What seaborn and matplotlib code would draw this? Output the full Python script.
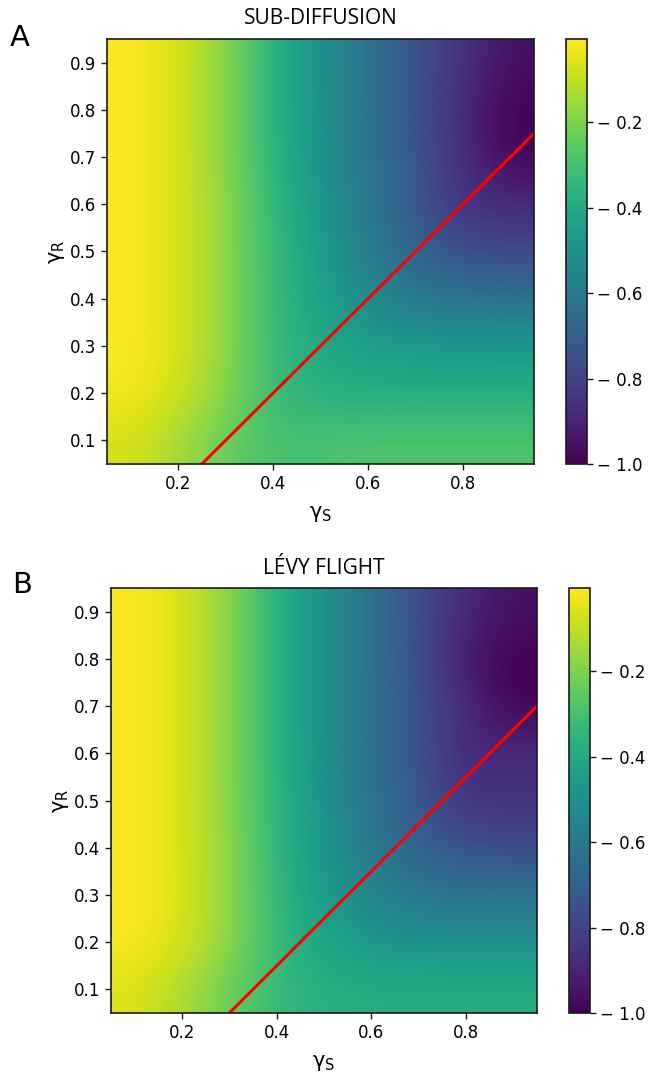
import numpy as np
import matplotlib
matplotlib.use("Agg")
import matplotlib.pyplot as plt
from matplotlib.ticker import FuncFormatter
import seaborn as sns

# ---- data -----------------------------------------------------------------
gamma_s = [0.1, 0.2, 0.3, 0.4, 0.5, 0.6, 0.7, 0.8, 0.9]
gamma_r = [0.1, 0.2, 0.3, 0.4, 0.5, 0.6, 0.7, 0.8, 0.9]

# rows: gamma_R = 0.1 ... 0.9 ; columns: gamma_S = 0.1 ... 0.9
sub_diffusion = [
    [-0.07, -0.14, -0.24, -0.30, -0.29, -0.28, -0.28, -0.28, -0.28],
    [-0.02, -0.07, -0.18, -0.33, -0.37, -0.38, -0.38, -0.38, -0.38],
    [-0.01, -0.06, -0.17, -0.33, -0.40, -0.44, -0.46, -0.46, -0.46],
    [-0.01, -0.06, -0.17, -0.33, -0.43, -0.53, -0.60, -0.62, -0.63],
    [-0.01, -0.06, -0.17, -0.33, -0.44, -0.58, -0.69, -0.76, -0.78],
    [-0.01, -0.06, -0.17, -0.34, -0.47, -0.60, -0.72, -0.87, -0.88],
    [-0.01, -0.06, -0.18, -0.35, -0.49, -0.61, -0.73, -0.87, -0.99],
    [-0.01, -0.06, -0.18, -0.36, -0.50, -0.62, -0.74, -0.89, -1.00],
    [-0.01, -0.06, -0.18, -0.36, -0.50, -0.62, -0.74, -0.86, -0.96],
]

levy_flight = [
    [-0.06, -0.13, -0.23, -0.34, -0.37, -0.38, -0.38, -0.38, -0.38],
    [-0.01, -0.06, -0.17, -0.33, -0.42, -0.47, -0.50, -0.50, -0.50],
    [-0.01, -0.06, -0.17, -0.34, -0.46, -0.55, -0.60, -0.62, -0.62],
    [-0.01, -0.06, -0.17, -0.35, -0.48, -0.60, -0.70, -0.75, -0.77],
    [-0.01, -0.06, -0.18, -0.35, -0.49, -0.62, -0.73, -0.86, -0.86],
    [-0.01, -0.06, -0.18, -0.36, -0.50, -0.63, -0.74, -0.90, -0.87],
    [-0.01, -0.06, -0.18, -0.36, -0.50, -0.63, -0.75, -0.88, -1.00],
    [-0.01, -0.06, -0.18, -0.36, -0.50, -0.63, -0.76, -0.94, -1.00],
    [-0.01, -0.06, -0.18, -0.36, -0.50, -0.63, -0.76, -0.89, -0.96],
]

# red boundary lines: gamma_R = gamma_S - offset
line_x_sub = [0.25, 0.95]
line_offset_sub = 0.20
line_x_levy = [0.30, 0.95]
line_offset_levy = 0.25

titles = ["SUB-DIFFUSION", "LÉVY FLIGHT"]
letters = ["A", "B"]
x_ticks = [0.2, 0.4, 0.6, 0.8]
y_ticks = [0.1, 0.2, 0.3, 0.4, 0.5, 0.6, 0.7, 0.8, 0.9]
cbar_ticks = [-1.0, -0.8, -0.6, -0.4, -0.2]
vmin, vmax = -1.0, -0.005

# ---- style ----------------------------------------------------------------
sns.set_style("ticks")
plt.rcParams["font.family"] = ["DejaVu Sans"]
plt.rcParams["axes.linewidth"] = 1.2
plt.rcParams["axes.edgecolor"] = "#1a1a1a"
plt.rcParams["text.color"] = "black"
plt.rcParams["axes.labelcolor"] = "black"
plt.rcParams["xtick.color"] = "black"
plt.rcParams["ytick.color"] = "black"

cmap = sns.color_palette("viridis", as_cmap=True)

W, H = 649, 1075
fig = plt.figure(figsize=(W / 100, H / 100), dpi=100)

def frac_rect(left, top, right, bottom):
    return [left / W, 1 - bottom / H, (right - left) / W, (bottom - top) / H]

panels = [
    dict(ax=frac_rect(107, 39, 534, 464), cb=frac_rect(566, 39, 587, 464),
         data=sub_diffusion, lx=line_x_sub, off=line_offset_sub,
         title_y=18, letter_xy=(20, 38)),
    dict(ax=frac_rect(111, 588, 537, 1013), cb=frac_rect(569, 588, 590, 1013),
         data=levy_flight, lx=line_x_levy, off=line_offset_levy,
         title_y=568, letter_xy=(22, 585)),
]

xs = np.array(gamma_s)
ys = np.array(gamma_r)
dx = (xs[1] - xs[0]) / 2
dy = (ys[1] - ys[0]) / 2
extent = [xs[0] - dx, xs[-1] + dx, ys[0] - dy, ys[-1] + dy]

fmt = FuncFormatter(lambda v, p: ("\u2212 " if v < 0 else "") + f"{abs(v):.1f}")

for i, p in enumerate(panels):
    ax = fig.add_axes(p["ax"])
    im = ax.imshow(np.array(p["data"]), origin="lower", extent=extent,
                   cmap=cmap, vmin=vmin, vmax=vmax, aspect="auto",
                   interpolation="bicubic")
    lx = np.array(p["lx"])
    sns.lineplot(x=lx, y=lx - p["off"], ax=ax, color="red", lw=2.2)
    ax.set_xlim(extent[0], extent[1])
    ax.set_ylim(extent[2], extent[3])
    ax.set_xticks(x_ticks)
    ax.set_yticks(y_ticks)
    ax.set_xticklabels([f"{t:.1f}" for t in x_ticks])
    ax.set_yticklabels([f"{t:.1f}" for t in y_ticks])
    ax.tick_params(labelsize=12, length=4, width=1, direction="out",
                   color="#1a1a1a", pad=4)
    ax.set_xlabel("γ$_{\\rm S}$", fontsize=15, labelpad=8)
    ax.set_ylabel("γ$_{\\rm R}$", fontsize=15, labelpad=2)
    for s in ax.spines.values():
        s.set_visible(True)

    cax = fig.add_axes(p["cb"])
    cb = fig.colorbar(im, cax=cax)
    cb.set_ticks(cbar_ticks)
    cb.ax.yaxis.set_major_formatter(fmt)
    cb.ax.tick_params(labelsize=12, length=4, width=1, color="#1a1a1a")
    cb.outline.set_linewidth(1.2)
    cb.outline.set_edgecolor("#1a1a1a")

    cx = (p["ax"][0] + p["ax"][2] / 2)
    fig.text(cx, 1 - p["title_y"] / H, titles[i], ha="center", va="center",
             fontsize=15, family=["Open Sans", "DejaVu Sans"])
    lxp, lyp = p["letter_xy"]
    fig.text(lxp / W, 1 - lyp / H, letters[i], ha="center", va="center",
             fontsize=21)

fig.savefig("out.png", dpi=100)
